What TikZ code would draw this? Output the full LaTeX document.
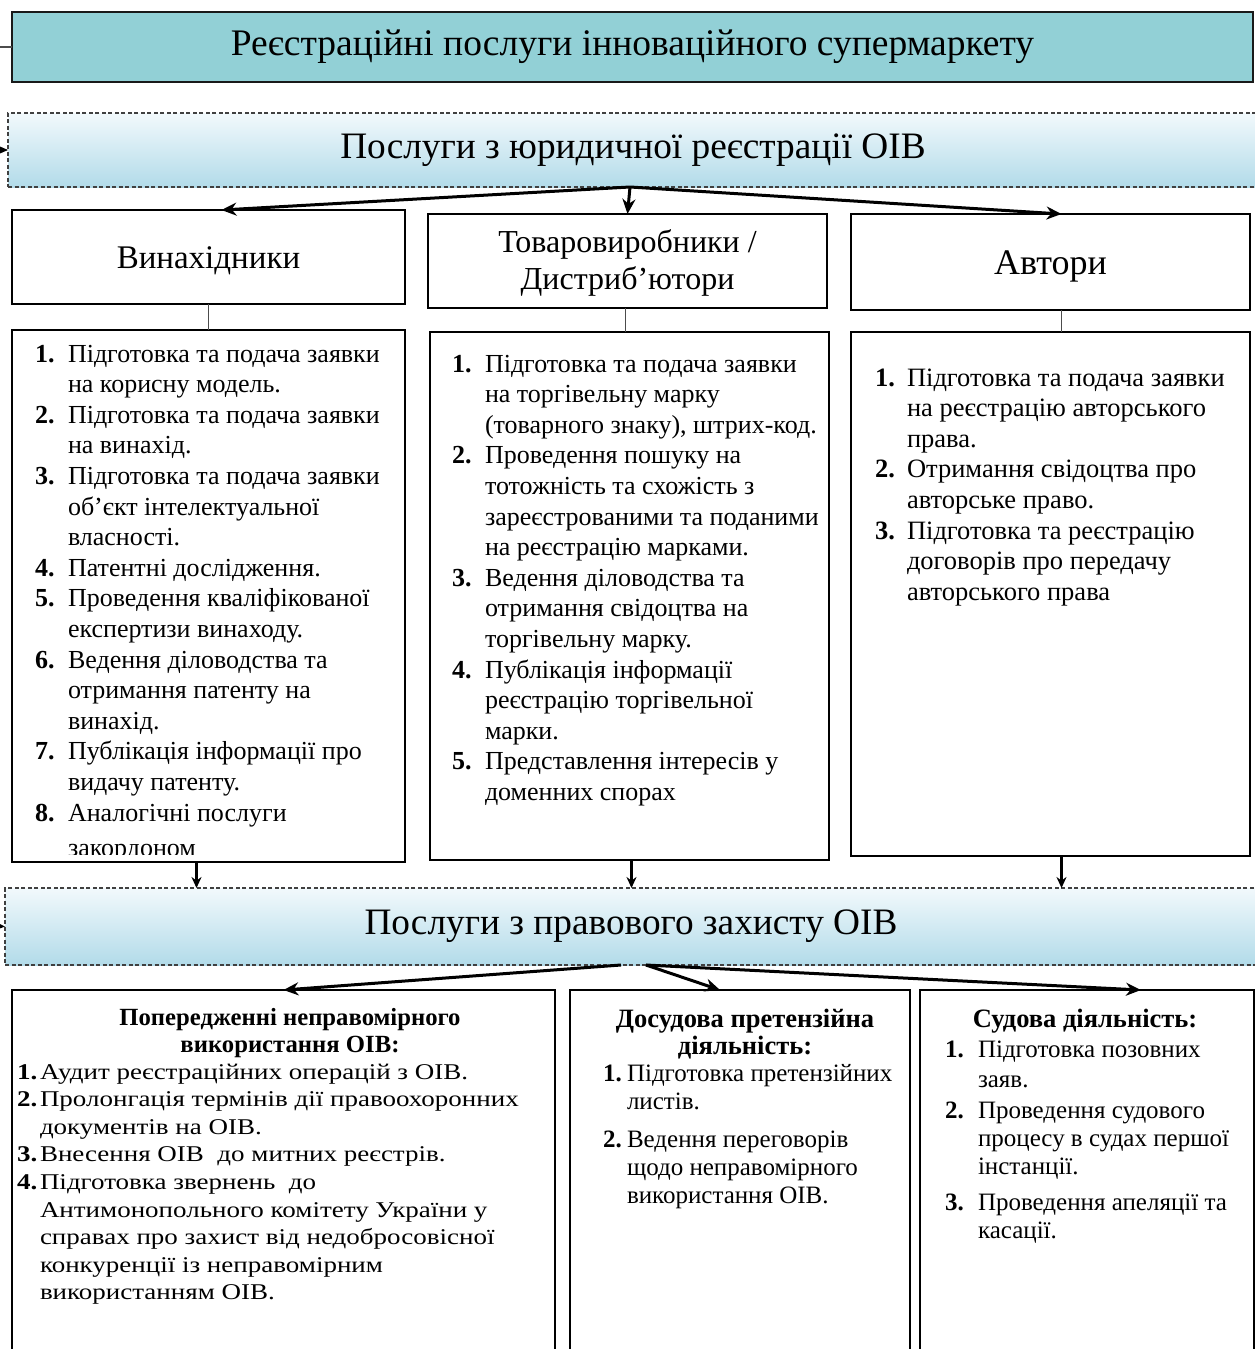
\documentclass[tikz,border=0pt]{standalone}
\usepackage{fontspec}
\setmainfont{Liberation Serif}
\newfontfamily\widefont[FakeStretch=1.2]{Liberation Serif}
\usetikzlibrary{arrows.meta,calc}
\definecolor{topfill}{RGB}{146,208,214}
\definecolor{bandtop}{RGB}{242,249,252}
\definecolor{bandbot}{RGB}{178,219,233}
\begin{document}
\begin{tikzpicture}[x=1pt,y=-1pt,
  every node/.style={outer sep=0pt},
  topbox/.style={draw=black!90, line width=1.6pt, fill=topfill, anchor=north west, inner sep=0pt, font=\fontsize{37.5}{44}\selectfont},
  band/.style={draw=black!75, line width=1.2pt, dash pattern=on 4pt off 2.5pt, top color=bandtop, bottom color=bandbot, anchor=north west, inner sep=0pt, font=\fontsize{37.3}{44}\selectfont},
  catbox/.style={draw=black, line width=1.4pt, fill=white, anchor=north west, inner sep=0pt},
  cattext/.style={inner sep=0pt, align=center},
  listbox/.style={draw=black, line width=1.4pt, fill=white, anchor=north west, inner sep=0pt},
  listtext/.style={anchor=base west, inner sep=0pt, font=\fontsize{26}{30.6}\selectfont},
  btext/.style={anchor=base west, inner sep=0pt, font=\fontsize{25}{28}\selectfont},
  btitle/.style={anchor=base, inner sep=0pt, font=\bfseries\fontsize{26.5}{27}\selectfont},
  bigarr/.style={-{Stealth[length=15pt,width=13pt]}, line width=3pt},
  downarr/.style={-{Stealth[length=11pt,width=10pt]}, line width=2.2pt},
  tick/.style={line width=0.8pt, draw=black!70}
]
\useasboundingbox (0,0) rectangle (1255,1349);
\clip (0,0) rectangle (1255,1349);

% top title
\node[topbox, minimum width=1241pt, minimum height=70pt] (top) at (12,12) {Реєстраційні послуги інноваційного супермаркету};
\coordinate (topin) at (-10,47);
\draw[line width=1.2pt, draw=black!70] (topin) -- (top.west);

% band 1
\node[band, minimum width=1250pt, minimum height=74pt] (b1) at (8,113) {Послуги з юридичної реєстрації ОІВ};
\coordinate (b1in) at (-30,150);
\draw[bigarr] (b1in) -- (b1.west);

% level 2
\node[catbox, minimum width=393pt, minimum height=94pt] (inv) at (12,210) {};
\node[catbox, minimum width=399pt, minimum height=94pt] (tov) at (428,214) {};
\node[catbox, minimum width=399pt, minimum height=96pt] (aut) at (851,214) {};
\node[cattext, font=\fontsize{33}{40}\selectfont] (invt) at ($(inv.center)+(0,4)$) {Винахідники};
\node[cattext, font=\fontsize{32}{37}\selectfont] (tovt) at ($(tov.center)+(0,2)$) {Товаровиробники /\\Дистриб’ютори};
\node[cattext, font=\fontsize{36}{40}\selectfont] (autt) at ($(aut.center)+(0,4)$) {Автори};

\draw[bigarr] ([xshift=-3pt]b1.south) -- ([xshift=13pt]inv.north);
\draw[bigarr] ([xshift=-3pt]b1.south) -- (tov.north);
\draw[bigarr] ([xshift=-3pt]b1.south) -- ([xshift=11pt]aut.north);

% level 3
\node[listbox, minimum width=393pt, minimum height=532pt] (l3a) at (12,330) {};
\node[listbox, minimum width=399pt, minimum height=528pt] (l3b) at (430,332) {};
\node[listbox, minimum width=399pt, minimum height=524pt] (l3c) at (851,332) {};

\draw[tick] (inv.south) -- (l3a.north);
\draw[tick] ([xshift=-2pt]tov.south) -- ([xshift=-4pt]l3b.north);
\draw[tick] ([xshift=11pt]aut.south) -- ([xshift=11pt]l3c.north);

\begin{scope}
\clip (14,332) rectangle (403,854);
\node[listtext] (la) at (35,362) {\begin{tabular}[t]{@{}p{33pt}@{}l@{}}
\textbf{1.} & Підготовка та подача заявки\\
 & на корисну модель.\\
\textbf{2.} & Підготовка та подача заявки\\
 & на винахід.\\
\textbf{3.} & Підготовка та подача заявки\\
 & об’єкт інтелектуальної\\
 & власності.\\
\textbf{4.} & Патентні дослідження.\\
\textbf{5.} & Проведення кваліфікованої\\
 & експертизи винаходу.\\
\textbf{6.} & Ведення діловодства та\\
 & отримання патенту на\\
 & винахід.\\
\textbf{7.} & Публікація інформації про\\
 & видачу патенту.\\
\textbf{8.} & Аналогічні послуги\\[5pt]
 & закордоном
\end{tabular}};
\end{scope}

\node[listtext] (lb) at (452,372) {\begin{tabular}[t]{@{}p{33pt}@{}l@{}}
\textbf{1.} & Підготовка та подача заявки\\
 & на торгівельну марку\\
 & (товарного знаку), штрих-код.\\
\textbf{2.} & Проведення пошуку на\\
 & тотожність та схожість з\\
 & зареєстрованими та поданими\\
 & на реєстрацію марками.\\
\textbf{3.} & Ведення діловодства та\\
 & отримання свідоцтва на\\
 & торгівельну марку.\\
\textbf{4.} & Публікація інформації\\
 & реєстрацію торгівельної\\
 & марки.\\
\textbf{5.} & Представлення інтересів у\\
 & доменних спорах
\end{tabular}};

\node[listtext, font=\fontsize{26.5}{30.6}\selectfont] (lc) at (875,386) {\begin{tabular}[t]{@{}p{32pt}@{}l@{}}
\textbf{1.} & Підготовка та подача заявки\\
 & на реєстрацію авторського\\
 & права.\\
\textbf{2.} & Отримання свідоцтва про\\
 & авторське право.\\
\textbf{3.} & Підготовка та реєстрацію\\
 & договорів про передачу\\
 & авторського права
\end{tabular}};

% band 2
\node[band, minimum width=1252pt, minimum height=77pt] (b2) at (5,888) {Послуги з правового захисту ОІВ};
\coordinate (b2in) at (-30,925);
\draw[bigarr] (b2in) -- (b2.west);

\draw[downarr] ([xshift=-12pt]l3a.south) -- ([xshift=-12pt]l3a.south |- b2.north);
\draw[downarr] ([xshift=2pt]l3b.south) -- ([xshift=2pt]l3b.south |- b2.north);
\draw[downarr] ([xshift=11pt]l3c.south) -- ([xshift=11pt]l3c.south |- b2.north);

% bottom boxes
\node[listbox, minimum width=543pt, minimum height=380pt] (pa) at (12,990) {};
\node[listbox, minimum width=340pt, minimum height=380pt] (pb) at (570,990) {};
\node[listbox, minimum width=334pt, minimum height=380pt] (pc) at (920,990) {};

\draw[bigarr] ([xshift=-10pt]b2.south) -- (pa.north);
\draw[bigarr] ([xshift=15pt]b2.south) -- ([xshift=-20pt]pb.north);
\draw[bigarr] ([xshift=15pt]b2.south) -- ([xshift=54pt]pc.north);

\node[btitle, font=\bfseries\fontsize{24.7}{27}\selectfont] (pat) at (290,1025) {\begin{tabular}[t]{@{}c@{}}Попередженні неправомірного\\використання ОІВ:\end{tabular}};
\node[btext, font=\widefont\fontsize{22.5}{27.6}\selectfont] (pal) at (17,1079) {\begin{tabular}[t]{@{}p{23pt}@{}l@{}}
\textbf{1.} & Аудит реєстраційних операцій з ОІВ.\\
\textbf{2.} & Пролонгація термінів дії правоохоронних\\
 & документів на ОІВ.\\
\textbf{3.} & Внесення ОІВ\ \ до митних реєстрів.\\
\textbf{4.} & Підготовка звернень\ \ до\\
 & Антимонопольного комітету України у\\
 & справах про захист від недобросовісної\\
 & конкуренції із неправомірним\\
 & використанням ОІВ.
\end{tabular}};

\node[btitle] (pbt) at (745,1027) {\begin{tabular}[t]{@{}c@{}}Досудова претензійна\\діяльність:\end{tabular}};
\node[btext] (pbl) at (603,1081) {\begin{tabular}[t]{@{}p{24pt}@{}l@{}}
\textbf{1.} & Підготовка претензійних\\
 & листів.\\[10pt]
\textbf{2.} & Ведення переговорів\\
 & щодо неправомірного\\
 & використання ОІВ.
\end{tabular}};

\node[btitle] (pct) at (1085,1027) {Судова діяльність:};
\node[btext] (pcl) at (945,1057) {\begin{tabular}[t]{@{}p{33pt}@{}l@{}}
\textbf{1.} & Підготовка позовних\\[2pt]
 & заяв.\\[3pt]
\textbf{2.} & Проведення судового\\
 & процесу в судах першої\\
 & інстанції.\\[8pt]
\textbf{3.} & Проведення апеляції та\\
 & касації.
\end{tabular}};
\end{tikzpicture}
\end{document}
